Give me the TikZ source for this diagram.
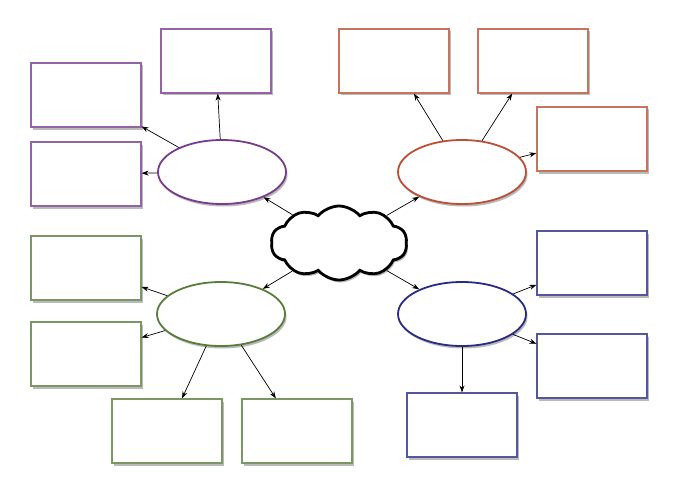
\documentclass[tikz,border=0pt]{standalone}
\usetikzlibrary{shapes.geometric,shapes.symbols,shadows,arrows.meta}
\definecolor{purp}{RGB}{120,60,140}
\definecolor{orng}{RGB}{185,80,55}
\definecolor{grn}{RGB}{90,125,60}
\definecolor{blu}{RGB}{40,45,130}
\begin{document}
\begin{tikzpicture}[x=1pt,y=-1pt,
  shad/.style={drop shadow={shadow xshift=1.5pt,shadow yshift=-2.5pt,opacity=0.45,fill=black!60}},
  topic/.style={ellipse,draw=#1,line width=1.8pt,fill=white,minimum width=128pt,minimum height=64pt,inner sep=0pt,shad},
  leaf/.style={rectangle,draw=#1!80,line width=1.15pt,fill=white,minimum width=110pt,minimum height=64pt,inner sep=0pt,shad},
  link/.style={-{Stealth[length=7pt,width=5pt]},line width=0.7pt,black}]
\useasboundingbox (0,0) rectangle (679,492);
% centre cloud
\node[cloud,cloud puffs=10,cloud puff arc=100,aspect=1.9,draw=black,line width=2.8pt,fill=white,
  minimum width=136pt,minimum height=74pt,inner sep=0pt,shad] (c) at (339,243) {};
% topic ellipses
\node[topic=purp] (pe) at (222,172) {};
\node[topic=orng] (oe) at (462,172) {};
\node[topic=grn] (ge) at (221,314) {};
\node[topic=blu] (be) at (462,314) {};
% purple boxes
\node[leaf=purp] (p1) at (216,61) {};
\node[leaf=purp] (p2) at (86,95) {};
\node[leaf=purp] (p3) at (86,174) {};
% orange boxes
\node[leaf=orng] (o1) at (394,61) {};
\node[leaf=orng] (o2) at (533,61) {};
\node[leaf=orng] (o3) at (592,139) {};
% green boxes
\node[leaf=grn] (g1) at (86,268) {};
\node[leaf=grn] (g2) at (86,354) {};
\node[leaf=grn] (g3) at (167,431) {};
\node[leaf=grn] (g4) at (297,431) {};
% blue boxes
\node[leaf=blu] (b1) at (592,263) {};
\node[leaf=blu] (b2) at (592,366) {};
\node[leaf=blu] (b3) at (462,425) {};
% links
\draw[link] (c) -- (pe);
\draw[link] (c) -- (oe);
\draw[link] (c) -- (ge);
\draw[link] (c) -- (be);
\draw[link] (pe) -- (p1);
\draw[link] (pe) -- (p2);
\draw[link] (pe) -- (p3);
\draw[link] (oe) -- (o1);
\draw[link] (oe) -- (o2);
\draw[link] (oe) -- (o3);
\draw[link] (ge) -- (g1);
\draw[link] (ge) -- (g2);
\draw[link] (ge) -- (g3);
\draw[link] (ge) -- (g4);
\draw[link] (be) -- (b1);
\draw[link] (be) -- (b2);
\draw[link] (be) -- (b3);
\end{tikzpicture}
\end{document}
